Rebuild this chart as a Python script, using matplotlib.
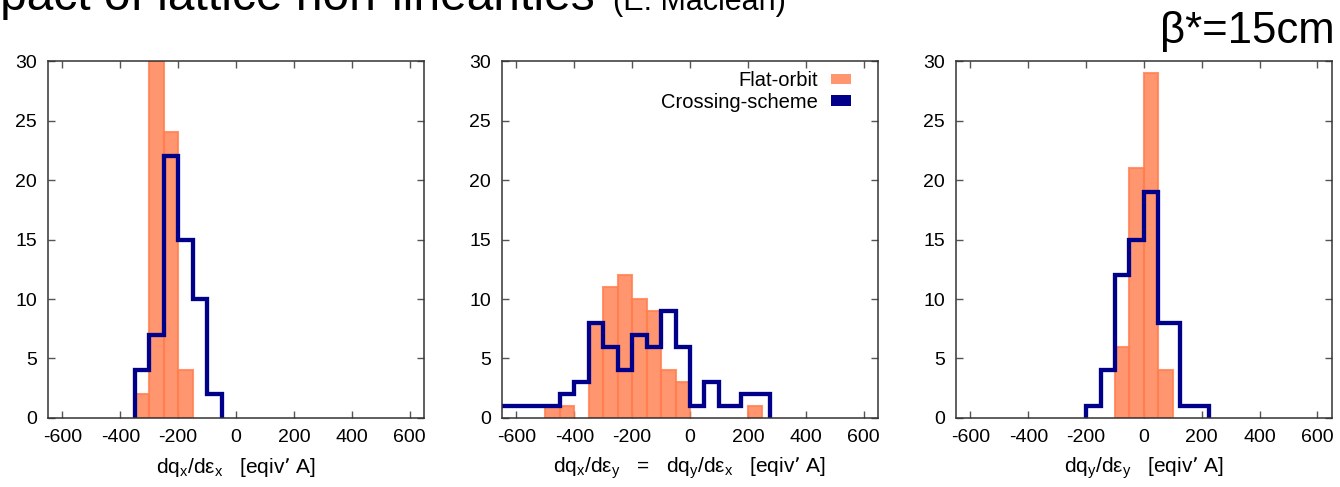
import matplotlib
matplotlib.use("Agg")
import matplotlib.pyplot as plt
from matplotlib.patches import Patch
import numpy as np

plt.rcParams["font.family"] = ["Liberation Sans", "DejaVu Sans"]
plt.rcParams["mathtext.default"] = "regular"
plt.rcParams["axes.unicode_minus"] = False

# histogram bin centres and counts (bin width 50 eqiv' A)
flat_xx_centres = [-325, -275, -225, -175]
flat_xx_counts = [2, 30, 24, 4]
cross_xx_centres = [-325, -275, -225, -175, -125, -75]
cross_xx_counts = [4, 7, 22, 15, 10, 2]

flat_xy_centres = [-475, -425, -325, -275, -225, -175, -125, -75, -25, 225]
flat_xy_counts = [1, 1, 8, 11, 12, 10, 9, 4, 3, 1]
cross_xy_centres = [-875, -475, -425, -375, -325, -275, -225, -175, -125, -75, -25, 25, 75, 125, 225]
cross_xy_counts = [1, 1, 2, 3, 8, 6, 4, 7, 6, 9, 6, 1, 3, 1, 2]

flat_yy_centres = [-75, -25, 25, 75]
flat_yy_counts = [6, 21, 29, 4]
cross_yy_centres = [-175, -125, -75, -25, 25, 75, 175]
cross_yy_counts = [1, 4, 12, 15, 19, 8, 1]

x_ticks = [-600, -400, -200, 0, 200, 400, 600]
y_ticks = [0, 5, 10, 15, 20, 25, 30]
x_labels = [
    "dq$_{x}$/dε$_{x}$   [eqiv’ A]",
    "dq$_{x}$/dε$_{y}$   =   dq$_{y}$/dε$_{x}$   [eqiv’ A]",
    "dq$_{y}$/dε$_{y}$   [eqiv’ A]",
]
series_names = ["Flat-orbit", "Crossing-scheme"]

BIN_WIDTH = 50
ORANGE = "#FF7F50"
NAVY = "#00008B"


def histep_edges(centres):
    # gnuplot "histeps": steps change half way between neighbouring points
    c = np.asarray(centres, dtype=float)
    mids = (c[1:] + c[:-1]) / 2
    first = c[0] - (c[1] - c[0]) / 2
    last = c[-1] + (c[-1] - c[-2]) / 2
    return np.concatenate([[first], mids, [last]])


def draw_panel(axis, flat_centres, flat_counts, cross_centres, cross_counts, xlabel):
    axis.bar(flat_centres, flat_counts, width=BIN_WIDTH, color=ORANGE, alpha=0.82,
             edgecolor=ORANGE, linewidth=1.5, zorder=2)
    axis.stairs(cross_counts, histep_edges(cross_centres), baseline=0, color=NAVY,
                linewidth=3.1, joinstyle="miter", zorder=3)
    axis.set_xlim(-650, 650)
    axis.set_ylim(0, 30)
    axis.set_xticks(x_ticks)
    axis.set_yticks(y_ticks)
    axis.tick_params(direction="in", top=True, right=True, length=5, width=1,
                     color="#555555", labelsize=14, pad=8)
    for spine in axis.spines.values():
        spine.set_color("#333333")
        spine.set_linewidth(1.1)
        spine.set_zorder(4)
    axis.set_xlabel(xlabel, fontsize=15, labelpad=7)


figure = plt.figure(figsize=(13.4, 4.87), dpi=100)
lefts = [0.0358, 0.3746, 0.7134]
panels = [
    (flat_xx_centres, flat_xx_counts, cross_xx_centres, cross_xx_counts),
    (flat_xy_centres, flat_xy_counts, cross_xy_centres, cross_xy_counts),
    (flat_yy_centres, flat_yy_counts, cross_yy_centres, cross_yy_counts),
]
axes = []
for left, data, label in zip(lefts, panels, x_labels):
    axis = figure.add_axes([left, 0.1417, 0.2806, 0.733])
    draw_panel(axis, *data, label)
    axes.append(axis)

handles = [Patch(facecolor=ORANGE, alpha=0.82, edgecolor="none"),
           Patch(facecolor=NAVY, edgecolor="none")]
axes[1].legend(handles, series_names, loc="upper right", bbox_to_anchor=(0.96, 1.005),
               frameon=False, markerfirst=False, fontsize=14.5, handlelength=1.0,
               handleheight=0.42, handletextpad=0.65, labelspacing=0.12, borderaxespad=0.2)

figure.text(-53 / 1340, 1 - 10 / 487, "Impact of lattice non-linearities", fontsize=34.5,
            ha="left", va="baseline")
figure.text(613 / 1340, 1 - 10 / 487, "(E. Maclean)", fontsize=22, ha="left", va="baseline")
figure.text(1335 / 1340, 1 - 43 / 487, "β*=15cm", fontsize=31.5, ha="right", va="baseline")

figure.savefig("out.png", dpi=100)
plt.close(figure)
